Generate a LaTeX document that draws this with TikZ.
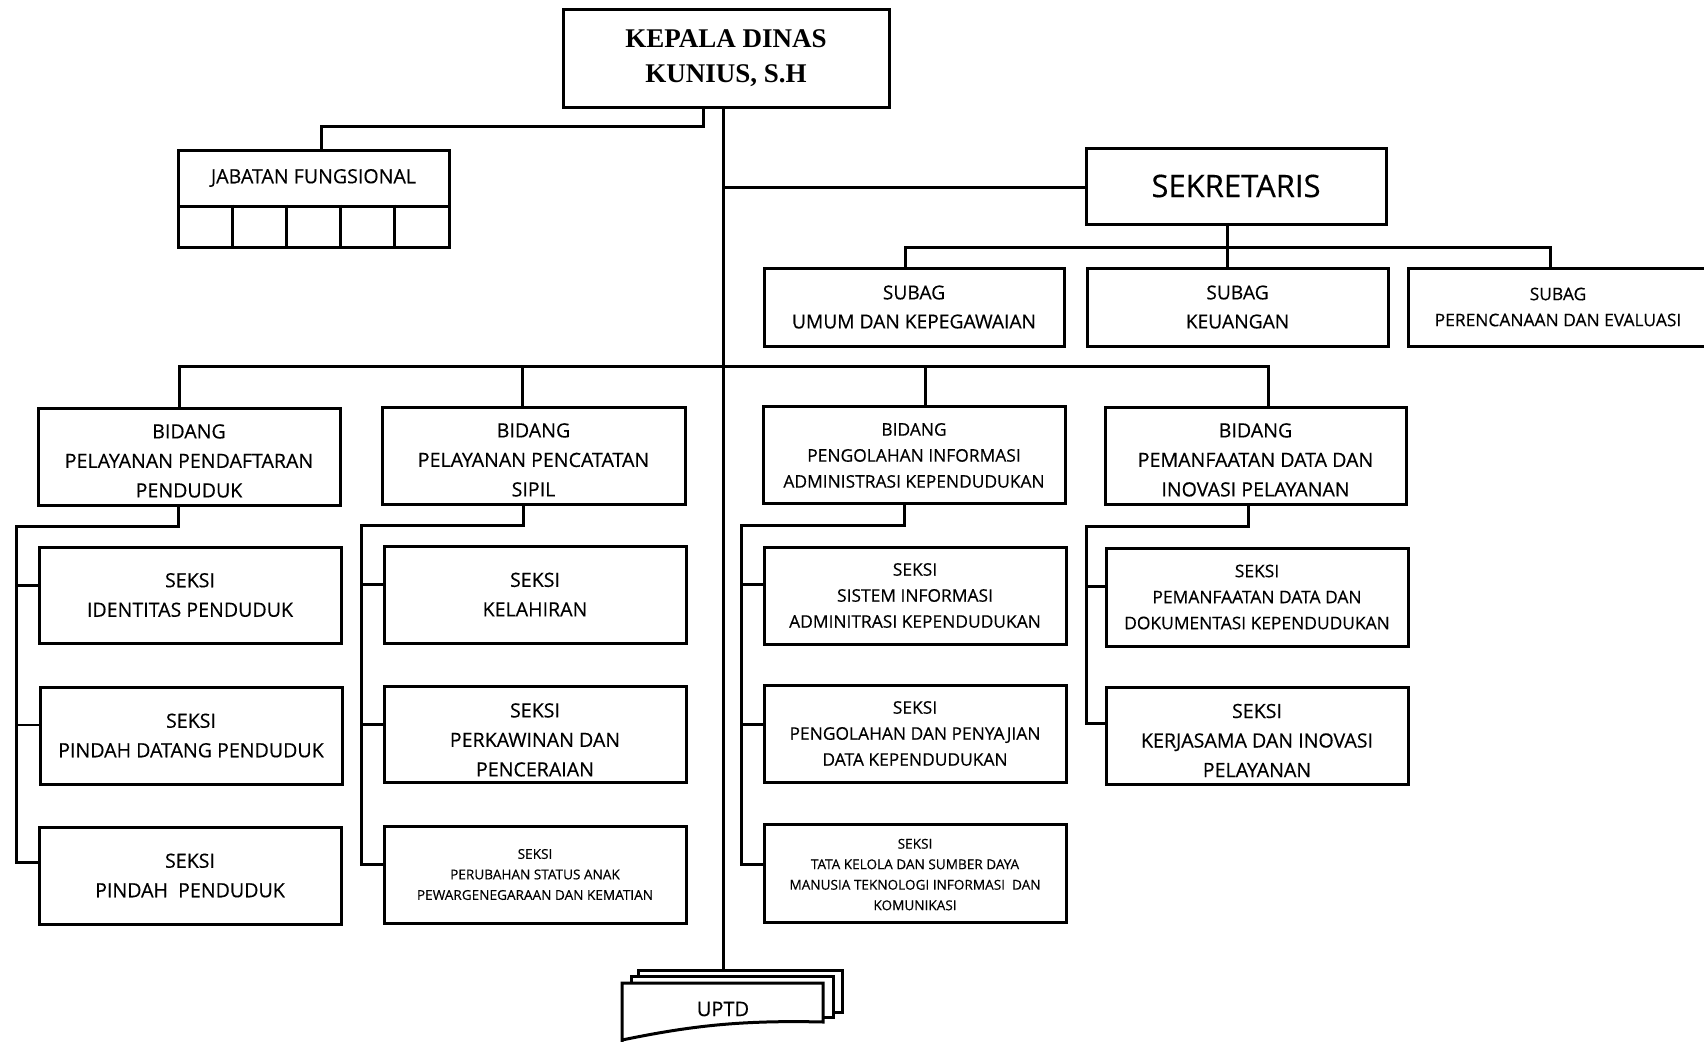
\documentclass[tikz,border=0pt]{standalone}
\usepackage{fontspec}
\setmainfont{Open Sans}[FakeBold=0.35]
\newfontfamily\kdfont{Liberation Serif}
\newcommand\dn[1]{\rule{0pt}{#1}}
\begin{document}
\begin{tikzpicture}[x=1pt,y=-1pt,
  box/.style={draw,line width=3pt,inner sep=0pt,align=center,fill=white},
  ln/.style={line width=3pt,line cap=rect},
  thinln/.style={line width=1.6pt},
  bigf/.style={font=\fontsize{19.6}{29.5}\selectfont},
  subf/.style={font=\fontsize{19.2}{29}\selectfont},
  medf/.style={font=\fontsize{17.4}{26}\selectfont},
  smlf/.style={font=\fontsize{13.6}{20.5}\selectfont},
  sheet/.style={draw,line width=3pt,fill=white,line join=miter}]
\clip (0,0) rectangle (1704,1041);
\fill[white] (0,0) rectangle (1704,1041);

% top
\node[box,minimum width=326pt,minimum height=97pt,font=\kdfont\bfseries\fontsize{27}{35}\selectfont] (kd) at (726,58.5) {KEPALA DINAS\\KUNIUS, S.H};
\node[box,minimum width=271pt,minimum height=56pt,bigf] (jf) at (313.5,178) {JABATAN FUNGSIONAL};
\node[box,minimum width=271pt,minimum height=41pt] (jfc) at (313.5,226.5) {};
\foreach \xx/\nm in {232.2/a,286.4/b,340.6/c,394.8/d}
  \draw[line width=3pt] (jfc.north -| \xx,0) coordinate (t\nm) -- (jfc.south -| \xx,0) coordinate (b\nm);
\node[box,minimum width=300pt,minimum height=76pt,font=\fontsize{31}{36}\selectfont] (sek) at (1236,186) {SEKRETARIS};
\node[box,minimum width=300pt,minimum height=78pt,subf] (sb1) at (914,307) {SUBAG\\UMUM DAN KEPEGAWAIAN};
\node[box,minimum width=301pt,minimum height=78pt,subf] (sb2) at (1237.5,307) {SUBAG\\KEUANGAN};
\node[box,minimum width=300pt,minimum height=78pt,medf] (sb3) at (1558,307) {SUBAG\\PERENCANAAN DAN EVALUASI};

% bidang
\node[box,minimum width=302pt,minimum height=97pt,bigf] (b1) at (189,456.5) {\dn{23pt}BIDANG\\PELAYANAN PENDAFTARAN\\PENDUDUK};
\node[box,minimum width=303pt,minimum height=97pt,bigf] (b2) at (533.5,455.5) {\dn{23pt}BIDANG\\PELAYANAN PENCATATAN\\SIPIL};
\node[box,minimum width=302pt,minimum height=97pt,medf] (b3) at (914,454.5) {\dn{14.5pt}BIDANG\\PENGOLAHAN INFORMASI\\ADMINISTRASI KEPENDUDUKAN};
\node[box,minimum width=301pt,minimum height=97pt,bigf] (b4) at (1255.5,455.5) {\dn{23pt}BIDANG\\PEMANFAATAN DATA DAN\\INOVASI PELAYANAN};

% seksi col 1
\node[box,minimum width=302pt,minimum height=96pt,bigf] (s11) at (190,595) {SEKSI\\IDENTITAS PENDUDUK};
\node[box,minimum width=302pt,minimum height=97pt,bigf] (s12) at (191,735.5) {SEKSI\\PINDAH DATANG PENDUDUK};
\node[box,minimum width=302pt,minimum height=97pt,bigf] (s13) at (190,875.5) {SEKSI\\PINDAH ~PENDUDUK};
% col 2
\node[box,minimum width=302pt,minimum height=97pt,bigf] (s21) at (535,594.5) {SEKSI\\KELAHIRAN};
\node[box,minimum width=302pt,minimum height=96pt,bigf] (s22) at (535,734) {\dn{26pt}SEKSI\\PERKAWINAN DAN\\PENCERAIAN};
\node[box,minimum width=302pt,minimum height=97pt,smlf] (s23) at (535,874.5) {SEKSI\\PERUBAHAN STATUS ANAK\\PEWARGENEGARAAN DAN KEMATIAN};
% col 3
\node[box,minimum width=302pt,minimum height=97pt,medf] (s31) at (915,595.5) {SEKSI\\SISTEM INFORMASI\\ADMINITRASI KEPENDUDUKAN};
\node[box,minimum width=302pt,minimum height=97pt,medf] (s32) at (915,733.5) {SEKSI\\PENGOLAHAN DAN PENYAJIAN\\DATA KEPENDUDUKAN};
\node[box,minimum width=302pt,minimum height=98pt,smlf] (s33) at (915,873) {\dn{13pt}SEKSI\\TATA KELOLA DAN SUMBER DAYA\\MANUSIA TEKNOLOGI INFORMASI ~DAN\\KOMUNIKASI};
% col 4
\node[box,minimum width=302pt,minimum height=98pt,medf] (s41) at (1257,597) {SEKSI\\PEMANFAATAN DATA DAN\\DOKUMENTASI KEPENDUDUKAN};
\node[box,minimum width=302pt,minimum height=97pt,bigf] (s42) at (1257,735.5) {\dn{24pt}SEKSI\\KERJASAMA DAN INOVASI\\PELAYANAN};

% UPTD
\draw[sheet] (638,970) rectangle (842,1012);
\draw[sheet] (631,976) rectangle (833,1017);
\draw[sheet] (622,1045) -- (622,983) -- (823,983) -- (823,1022) .. controls (740,1020) and (690,1026) .. (622,1040);
\node[font=\fontsize{20}{24}\selectfont,inner sep=0pt] (uptd) at (723,1009) {UPTD};
\coordinate (uptdtop) at (723,970);

% connectors top
\coordinate (kdb) at (723,108);
\draw[ln] (kdb) -- (uptdtop);
\draw[ln] (kd.south -| 703,0) -- (703,126.5) -- (321,126.5) -- (jf.north -| 321,0);
\draw[ln] (723,187) -- (sek.west |- 0,187);
\draw[ln] (sek.south -| 1227,0) -- (1227,247);
\draw[ln] (905,247) -- (1550,247);
\draw[ln] (905,247) -- (sb1.north -| 905,0);
\draw[ln] (1227,247) -- (sb2.north -| 1227,0);
\draw[ln] (1550,247) -- (sb3.north -| 1550,0);

% main bus
\draw[ln] (179,366) -- (1268,366);
\draw[ln] (179,366) -- (b1.north -| 179,0);
\draw[ln] (522,366) -- (b2.north -| 522,0);
\draw[ln] (925,366) -- (b3.north -| 925,0);
\draw[ln] (1268,366) -- (b4.north -| 1268,0);

% col 1
\draw[ln] (b1.south -| 178,0) -- (178,526) -- (16,526) -- (16,862);
\draw[ln] (16,585) -- (s11.west |- 0,585);
\draw[thinln] (16,725) -- (s12.west |- 0,725);
\draw[ln] (16,862) -- (s13.west |- 0,862);
% col 2
\draw[ln] (b2.south -| 523,0) -- (523,525) -- (361,525) -- (361,864);
\draw[ln] (361,584) -- (s21.west |- 0,584);
\draw[ln] (361,724) -- (s22.west |- 0,724);
\draw[ln] (361,864) -- (s23.west |- 0,864);
% col 3
\draw[ln] (b3.south -| 904,0) -- (904,525) -- (741,525) -- (741,864);
\draw[ln] (741,584) -- (s31.west |- 0,584);
\draw[ln] (741,724) -- (s32.west |- 0,724);
\draw[ln] (741,864) -- (s33.west |- 0,864);
% col 4
\draw[ln] (b4.south -| 1248,0) -- (1248,526) -- (1086,526) -- (1086,723);
\draw[ln] (1086,586) -- (s41.west |- 0,586);
\draw[ln] (1086,723) -- (s42.west |- 0,723);
\end{tikzpicture}
\end{document}
